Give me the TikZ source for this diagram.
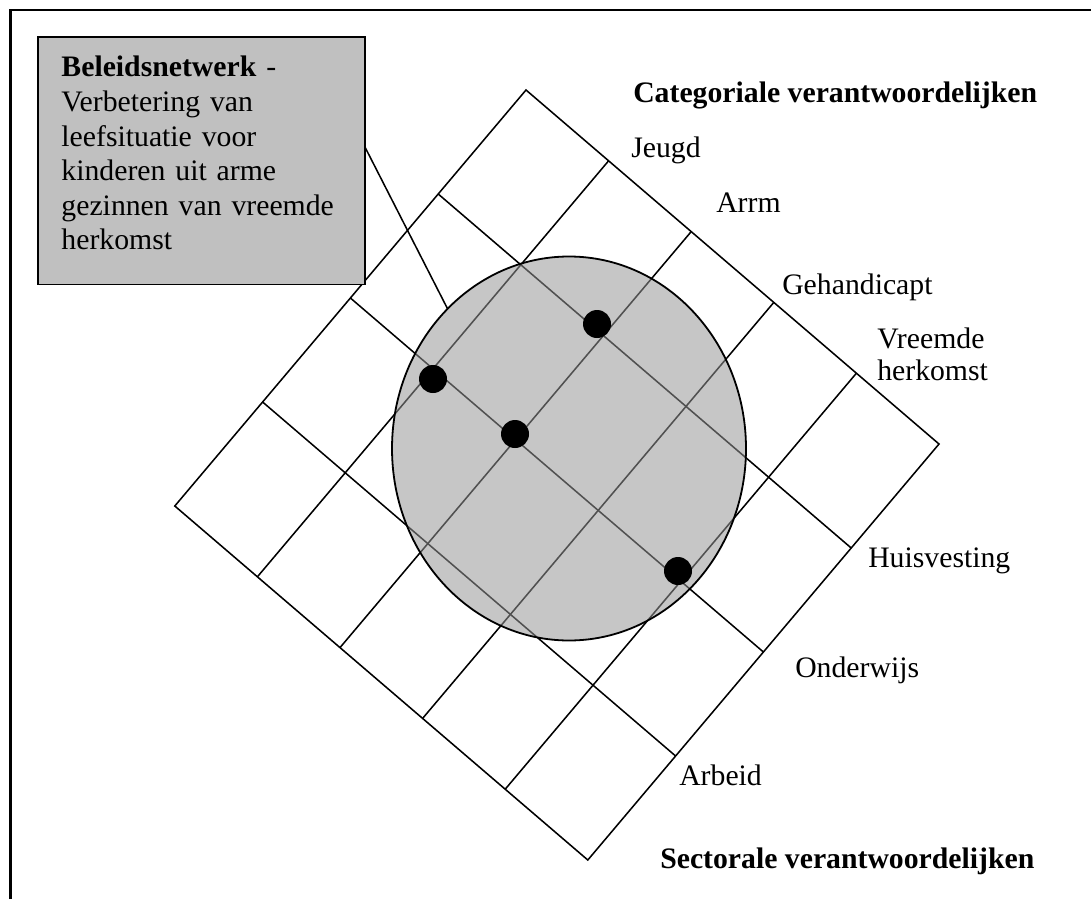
\documentclass[tikz,border=0pt]{standalone}
\usepackage{fontspec}
\setmainfont{Liberation Serif}
\usetikzlibrary{shapes.geometric}
\definecolor{boxgray}{RGB}{192,192,192}
\definecolor{zonegray}{RGB}{149,149,149}

\begin{document}
\begin{tikzpicture}[x=0.75pt,y=-0.75pt,
    lbl/.style={anchor=base west,inner sep=0pt,font=\fontsize{22.3}{25.9}\selectfont},
    spot/.style={circle,fill=black,inner sep=0pt,minimum size=21pt}]
  \useasboundingbox (0,0) rectangle (1091,899);
  % frame
  \draw[line width=2pt] (10.5,899) -- (10.5,10) -- (1091,10);
  % grid
  \draw[line width=1.15pt] (526,90) -- (939,444) -- (587.8,860) -- (174.8,506) -- cycle;
  \foreach \i in {1,...,4}
    \draw[line width=1.15pt] (526+82.6*\i,90+70.8*\i) -- (526+82.6*\i-351.2,90+70.8*\i+416);
  \foreach \j in {1,...,3}
    \draw[line width=1.15pt] (526-87.8*\j,90+104*\j) -- (526-87.8*\j+413,90+104*\j+354);
  % netwerk
  \node[ellipse,draw,line width=1.35pt,fill=zonegray,fill opacity=0.54,
        minimum width=265.5pt,minimum height=288pt,inner sep=0pt,outer sep=0pt]
        (ell) at (569,448.5) {};
  \node[spot] (d1) at (433,379) {};
  \node[spot] (d2) at (515,434) {};
  \node[spot] (d3) at (597,324) {};
  \node[spot] (d4) at (678,571) {};
  \node[draw,line width=1.2pt,fill=boxgray,anchor=north west,outer sep=0pt,
        text width=210pt,align=left,inner xsep=17.6pt,inner ysep=15pt,
        text height=15pt,text depth=140.6pt,font=\fontsize{22.3}{25.9}\selectfont]
        (box) at (38,37) {\textbf{Beleidsnetwerk} -\\Verbetering van\\leefsituatie voor\\kinderen uit arme\\gezinnen van vreemde\\herkomst};
  \draw[line width=1.15pt] (box.east |- 0,147) -- (ell.131);
  % labels
  \node[lbl] (cat) at (633,103) {\textbf{Categoriale verantwoordelijken}};
  \node[lbl] (jeugd) at (631,157) {Jeugd};
  \node[lbl] (arrm) at (716,212) {Arrm};
  \node[lbl] (gehand) at (782,294) {Gehandicapt};
  \node[lbl,text width=100pt,align=left,font=\fontsize{22.3}{24}\selectfont] (vreemd) at (877,348) {Vreemde\\herkomst};
  \node[lbl] (huis) at (868,567) {Huisvesting};
  \node[lbl] (onder) at (795,677) {Onderwijs};
  \node[lbl] (arbeid) at (679,785) {Arbeid};
  \node[lbl] (sect) at (660,868) {\textbf{Sectorale verantwoordelijken}};
\end{tikzpicture}
\end{document}
